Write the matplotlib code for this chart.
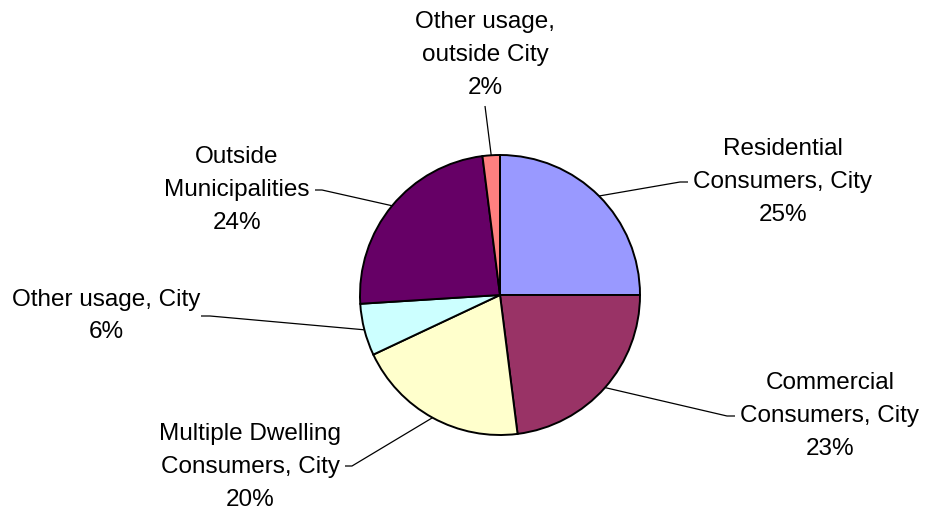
import numpy as np
import matplotlib
matplotlib.use("Agg")
import matplotlib.pyplot as plt

plt.rcParams['font.family'] = ['Liberation Sans', 'DejaVu Sans']

# Water consumption shares by customer group
categories = [
    "Residential\nConsumers, City",
    "Commercial\nConsumers, City",
    "Multiple Dwelling\nConsumers, City",
    "Other usage, City",
    "Outside\nMunicipalities",
    "Other usage,\noutside City",
]
shares = [25, 23, 20, 6, 24, 2]
colors = ["#9999FF", "#993366", "#FFFFCC", "#CCFFFF", "#660066", "#FF8080"]

W, H = 925, 510
fig = plt.figure(figsize=(W / 100, H / 100), dpi=100)
ax = fig.add_axes([0, 0, 1, 1])

cx, cy, r = 500, H - 296, 140
wedges, _ = ax.pie(shares, colors=colors, startangle=90, counterclock=False,
                   center=(cx, cy), radius=r, frame=True,
                   wedgeprops=dict(edgecolor="black", linewidth=1.4))
ax.set_xlim(0, W)
ax.set_ylim(0, H)
ax.set_aspect("equal")
ax.axis("off")

# label centre (x, y from top), elbow point, text side
label_pos = [
    ((783, 182), (680, 183), (688, 183)),
    ((830, 416), (727, 417), (735, 417)),
    ((250, 467), (352, 467), (345, 467)),
    ((106, 316), (210, 317), (201, 317)),
    ((237, 190), (322, 191), (315, 191)),
    ((485, 55), (485, 107), None),
]

for w, cat, val, (tpos, elbow, tend) in zip(wedges, categories, shares, label_pos):
    mid = np.deg2rad((w.theta1 + w.theta2) / 2)
    ex, ey = cx + r * np.cos(mid), cy + r * np.sin(mid)
    xs = [ex, elbow[0]]
    ys = [ey, H - elbow[1]]
    if tend is not None:
        xs.append(tend[0])
        ys.append(H - tend[1])
    ax.plot(xs, ys, color="black", linewidth=0.9, solid_capstyle="butt")
    ax.text(tpos[0], H - tpos[1], f"{cat}\n{val}%", ha="center", va="center",
            fontsize=17.5, linespacing=1.62, color="black")

fig.savefig("out.png", dpi=100)
